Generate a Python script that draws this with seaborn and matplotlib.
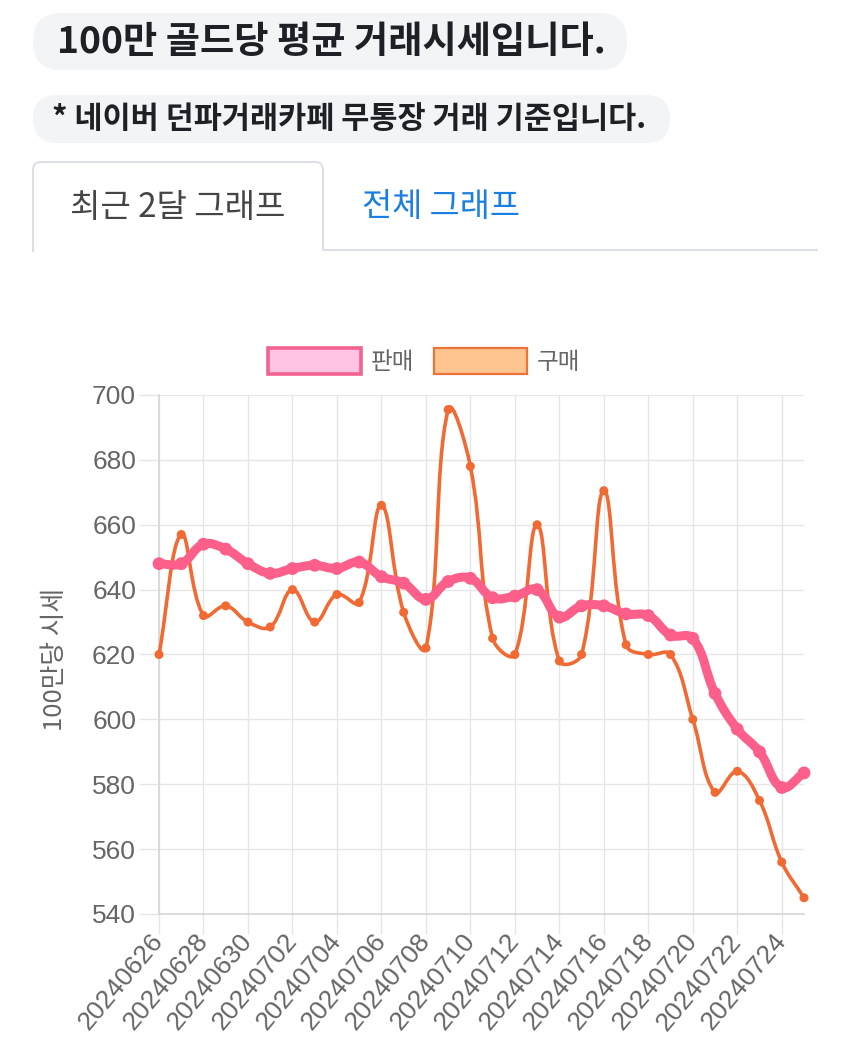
import numpy as np
import pandas as pd
import matplotlib as mpl
import matplotlib.pyplot as plt
from matplotlib.path import Path
from matplotlib.patches import PathPatch, FancyBboxPatch, Patch
import seaborn as sns

mpl.use('Agg')

# chart data
dates = ['20240626', '20240627', '20240628', '20240629', '20240630', '20240701',
         '20240702', '20240703', '20240704', '20240705', '20240706', '20240707',
         '20240708', '20240709', '20240710', '20240711', '20240712', '20240713',
         '20240714', '20240715', '20240716', '20240717', '20240718', '20240719',
         '20240720', '20240721', '20240722', '20240723', '20240724', '20240725']
sell = [648, 648, 654, 652.5, 648, 645, 646.5, 647.5, 646.5, 648.5,
        644, 642, 637, 642.5, 643.5, 637.5, 638, 640, 631.5, 635,
        635, 632.5, 632, 626, 625, 608, 597, 590, 579, 583.5]
buy = [620, 657, 632, 635, 630, 628.5, 640, 630, 638.5, 636,
       666, 633, 622, 695.5, 678, 625, 620, 660, 618, 620,
       670.5, 623, 620, 620, 600, 577.5, 584, 575, 556, 545]
yticks = [540, 560, 580, 600, 620, 640, 660, 680, 700]

W, H = 850, 1045
pink = '#fb5f8a'
orange = '#f26a33'
grid_col = '#e6e6e6'
text_grey = '#666666'

sns.set_theme(style='white')
plt.rcParams['font.family'] = ['Liberation Sans', 'Noto Sans CJK KR']
kr = ['Noto Sans CJK KR', 'DejaVu Sans']


def box(l, t, r, b):
    return [l / W, 1 - b / H, (r - l) / W, (b - t) / H]


def spline(ax, x, y, tension=0.4):
    # bezier curve through the points, like chart.js line tension
    pts = ax.transData.transform(np.column_stack([x, y]))
    n = len(pts)
    cps = []
    for i in range(n):
        prev, cur, nxt = pts[max(i - 1, 0)], pts[i], pts[min(i + 1, n - 1)]
        d01 = np.hypot(*(cur - prev))
        d12 = np.hypot(*(nxt - cur))
        tot = d01 + d12
        s01 = d01 / tot if tot else 0
        s12 = d12 / tot if tot else 0
        cps.append((cur - tension * s01 * (nxt - prev), cur + tension * s12 * (nxt - prev)))
    verts = [pts[0]]
    codes = [Path.MOVETO]
    for i in range(1, n):
        verts += [cps[i - 1][1], cps[i][0], pts[i]]
        codes += [Path.CURVE4] * 3
    verts = ax.transData.inverted().transform(np.array(verts))
    lo, hi = ax.get_ylim()
    verts[:, 1] = np.clip(verts[:, 1], lo, hi)
    return Path(verts, codes)


fig = plt.figure(figsize=(W / 100, H / 100), dpi=100)

# header area (pixel coordinates)
bg = fig.add_axes([0, 0, 1, 1])
bg.set_xlim(0, W)
bg.set_ylim(H, 0)
bg.axis('off')

bg.add_patch(FancyBboxPatch((33, 13), 594, 57, boxstyle='round,pad=0,rounding_size=28',
                            fc='#f3f4f6', ec='none'))
bg.text(57, 42, '100만 골드당 평균 거래시세입니다.', fontsize=26.8, fontweight='bold',
        color='#1e2025', va='center', ha='left', family=kr)
bg.add_patch(FancyBboxPatch((33, 95), 637, 48, boxstyle='round,pad=0,rounding_size=24',
                            fc='#f3f4f6', ec='none'))
bg.text(52, 119, '* 네이버 던파거래카페 무통장 거래 기준입니다.', fontsize=22, fontweight='bold',
        color='#1e2025', va='center', ha='left', family=kr)

r = 8
tab = Path([(33, 252), (33, 162 + r), (33, 162), (33 + r, 162), (323 - r, 162), (323, 162),
            (323, 162 + r), (323, 250), (818, 250)],
           [Path.MOVETO, Path.LINETO, Path.CURVE3, Path.CURVE3, Path.LINETO, Path.CURVE3,
            Path.CURVE3, Path.LINETO, Path.LINETO])
bg.add_patch(PathPatch(tab, fc='none', ec='#dcdfe3', lw=1.5))
bg.text(70, 207, '최근 2달 그래프', fontsize=23.8, color='#454545', va='center', ha='left', family=kr)
bg.text(362, 207, '전체 그래프', fontsize=23.6, color='#1a7fe0', va='center', ha='left', family=kr)

# chart
ax = fig.add_axes(box(159, 395, 804, 914))
ax.set_facecolor('none')

df = pd.DataFrame({'date': dates, 'idx': np.arange(len(dates)), '판매': sell, '구매': buy})

ax.set_xlim(0, len(dates) - 1)
ax.set_ylim(540, 700)

ax.add_patch(PathPatch(spline(ax, df['idx'], df['구매']), fc='none', ec=orange, lw=2.6,
                       capstyle='round', joinstyle='round', zorder=3, clip_on=False))
sns.scatterplot(data=df, x='idx', y='구매', color=orange, s=42, edgecolor='none',
                ax=ax, zorder=4, clip_on=False, legend=False)
ax.add_patch(PathPatch(spline(ax, df['idx'], df['판매']), fc='none', ec=pink, lw=6.5,
                       capstyle='round', joinstyle='round', zorder=5, clip_on=False))
sns.scatterplot(data=df, x='idx', y='판매', color=pink, s=85, edgecolor='none',
                ax=ax, zorder=6, clip_on=False, legend=False)

ax.set_xlim(0, len(dates) - 1)
ax.set_ylim(540, 700)
ax.set_xticks(df['idx'][::2])
ax.set_xticklabels(dates[::2], rotation=50, ha='right', va='center', rotation_mode='anchor')
ax.set_yticks(yticks)
ax.tick_params(axis='both', length=14.5, width=1, color=grid_col, labelcolor=text_grey,
               labelsize=19, pad=2, left=True, bottom=True)
ax.grid(True, color=grid_col, lw=1)
sns.despine(ax=ax)
for s in ['left', 'bottom']:
    ax.spines[s].set_color('#d6d6d6')
    ax.spines[s].set_linewidth(1.2)

ax.set_xlabel('')
ax.set_ylabel('100만당 시세', fontsize=18.5, color=text_grey, family=kr)
ax.yaxis.set_label_coords((68 - 159) / 645, (914 - 659) / 519)

handles = [Patch(fc='#ffc4e3', ec='#f2638f', lw=2.6, label='판매'),
           Patch(fc='#ffc590', ec='#ec7238', lw=1.6, label='구매')]
fs = 17
fpx = fs * 100 / 72
fig.legend(handles=handles, loc='center', bbox_to_anchor=(424 / W, 1 - 361 / H), ncol=2,
           frameon=False, fontsize=fs, handlelength=93 / fpx, handleheight=32 / fpx,
           handletextpad=10 / fpx, columnspacing=20 / fpx, borderpad=0, labelcolor=text_grey,
           prop={'family': kr, 'size': fs})

fig.savefig('out.png', dpi=100)
